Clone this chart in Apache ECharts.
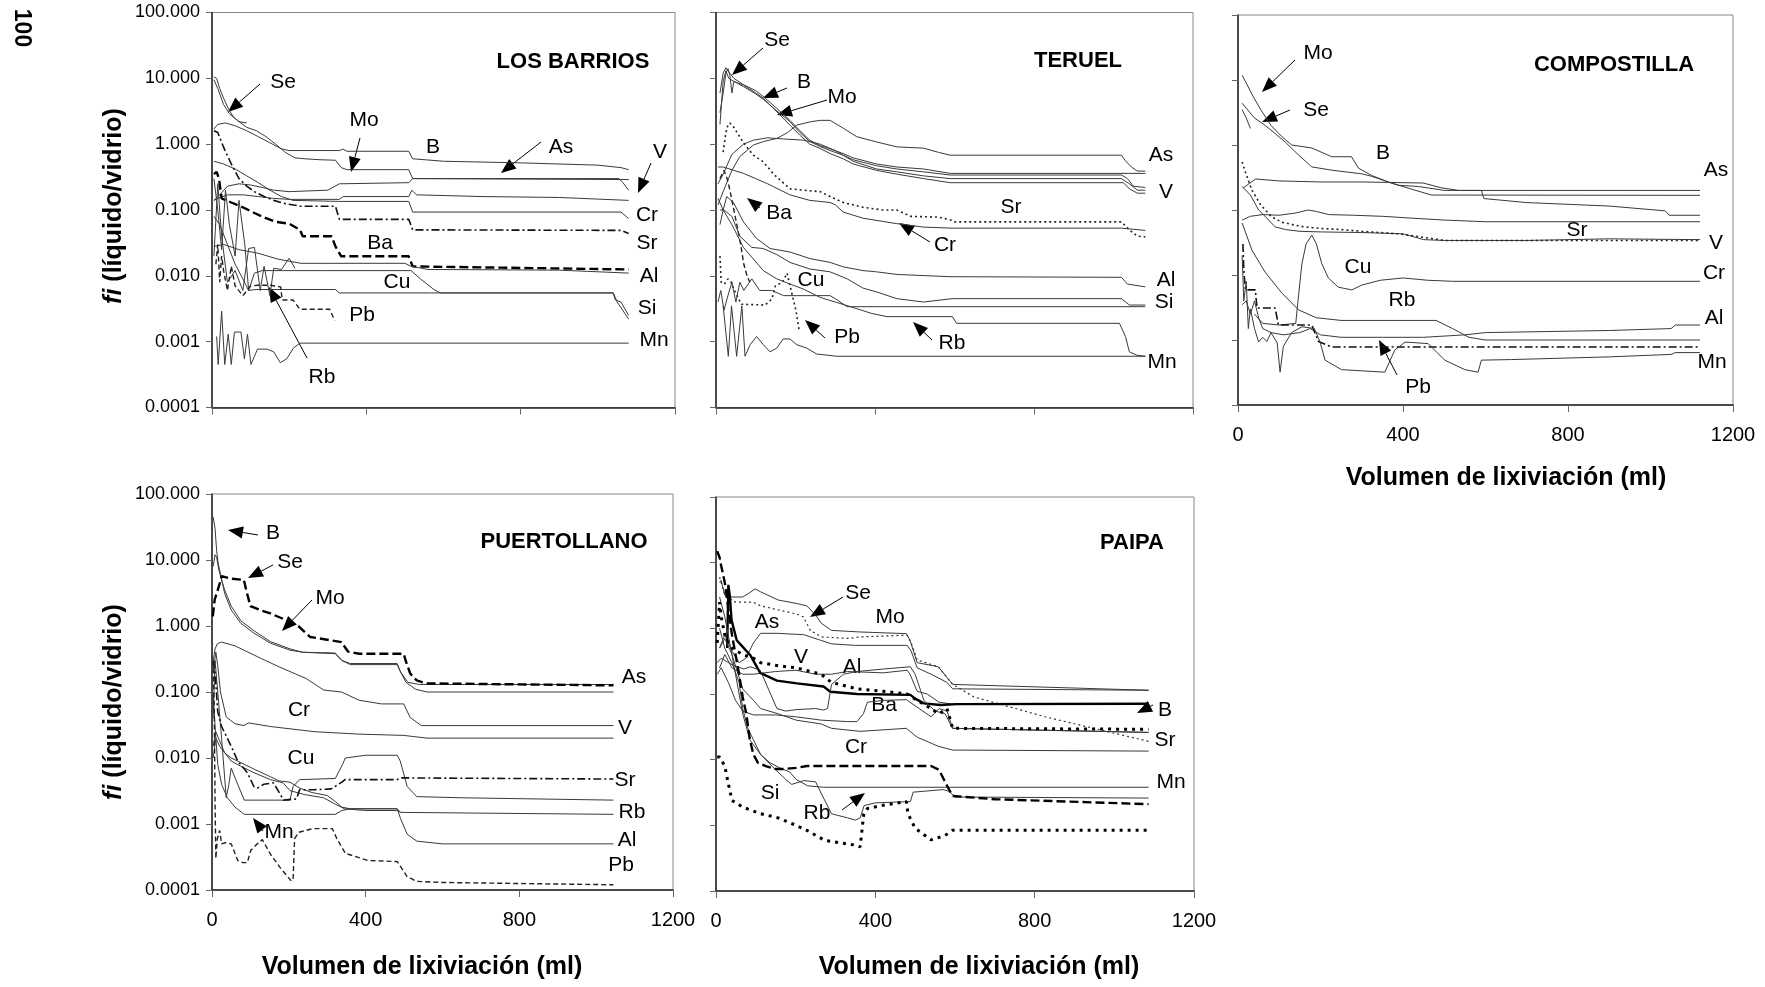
<!DOCTYPE html>
<html lang="es">
<head>
<meta charset="UTF-8">
<title>fi (líquido/vidrio) vs volumen de lixiviación</title>
<script src="https://cdn.jsdelivr.net/npm/echarts@6/dist/echarts.min.js"></script>
<style>
  html, body { margin: 0; background: #fff; }
  #chart { width: 1765px; height: 987px; }
</style>
</head>
<body>
<div id="chart"></div>
<script>
  // axis labels
  const yTickLabels = ['0.0001', '0.001', '0.010', '0.100', '1.000', '10.000', '100.000'];
  const xTicks = [0, 400, 800, 1200];
  const panelNames = ['LOS BARRIOS', 'TERUEL', 'COMPOSTILLA', 'PUERTOLLANO', 'PAIPA'];

  // ---- LOS BARRIOS  [ml, fi]
  const lbSe = [[5,10.5],[12,10],[20,7],[30,5],[42,3.5],[55,2.6],[70,2.2],[90,2.1]];
  const lbB = [[5,1.7],[15,2.0],[35,2.1],[60,1.9],[90,1.6],[120,1.3],[150,1.05],[180,0.85],[200,0.8],[330,0.8],[340,0.84],[350,0.78],[510,0.78],[520,0.6],[600,0.55],[800,0.52],[1000,0.48],[1060,0.44],[1080,0.41]];
  const lbMo = [[5,9.5],[15,7],[30,4],[45,2.9],[70,2.2],[90,1.8],[115,1.6],[140,1.3],[165,1.0],[190,0.75],[215,0.62],[240,0.6],[280,0.58],[320,0.57],[335,0.44],[350,0.41],[510,0.41],[520,0.3],[1080,0.29]];
  const lbAs = [[5,0.14],[20,0.17],[40,0.23],[70,0.25],[100,0.24],[130,0.22],[160,0.2],[200,0.19],[300,0.2],[330,0.25],[510,0.26],[520,0.3],[1055,0.3],[1065,0.26],[1080,0.2]];
  const lbV = [[5,0.14],[15,0.15],[40,0.17],[80,0.17],[120,0.16],[160,0.15],[200,0.145],[330,0.145],[340,0.16],[510,0.16],[518,0.2],[530,0.17],[700,0.16],[900,0.155],[1080,0.14]];
  const lbCr = [[5,0.55],[30,0.5],[60,0.42],[90,0.33],[120,0.26],[150,0.2],[180,0.16],[210,0.14],[330,0.135],[510,0.135],[520,0.093],[1060,0.093],[1080,0.074]];
  const lbSr = [[5,1.6],[15,1.5],[30,0.9],[50,0.5],[70,0.3],[90,0.23],[110,0.19],[135,0.16],[160,0.14],[190,0.125],[230,0.114],[320,0.114],[330,0.072],[510,0.072],[520,0.05],[1060,0.049],[1080,0.044]];
  const lbBa = [[5,0.35],[12,0.38],[18,0.3],[25,0.15],[50,0.13],[80,0.11],[110,0.09],[140,0.075],[165,0.066],[200,0.062],[228,0.05],[235,0.04],[310,0.04],[320,0.028],[335,0.0198],[510,0.0198],[520,0.0139],[1080,0.0125]];
  const lbAl = [[5,0.028],[30,0.03],[70,0.025],[120,0.022],[170,0.018],[230,0.0155],[500,0.0155],[515,0.014],[560,0.0125],[900,0.0122],[1080,0.011]];
  const lbCu = [[5,0.08],[20,0.06],[40,0.03],[60,0.015],[80,0.009],[95,0.006],[110,0.011],[130,0.012],[186,0.012],[300,0.012],[516,0.012],[540,0.009],[575,0.0062],[592,0.0055],[1040,0.0055],[1050,0.004],[1080,0.0022]];
  const lbSi = [[5,0.3],[15,0.1],[25,0.025],[35,0.2],[45,0.06],[60,0.02],[70,0.14],[85,0.03],[95,0.006],[115,0.0062],[320,0.0062],[330,0.0055],[1040,0.0055],[1045,0.0043],[1060,0.004],[1080,0.0025]];
  const lbRb = [[5,0.02],[15,0.25],[25,0.04],[40,0.008],[60,0.012],[80,0.006],[95,0.026],[110,0.027],[125,0.006],[135,0.014],[150,0.005],[160,0.013],[180,0.0125],[200,0.0185],[215,0.013]];
  const lbPb = [[10,0.015],[15,0.03],[20,0.008],[25,0.02],[30,0.012],[40,0.006],[50,0.014],[60,0.007],[80,0.005],[100,0.007],[118,0.0072],[150,0.0072],[178,0.0068],[182,0.0043],[210,0.0043],[228,0.0031],[305,0.0031],[318,0.0021]];
  const lbMn = [[12,0.0012],[16,0.00045],[25,0.0029],[33,0.00045],[42,0.0013],[50,0.00045],[58,0.0014],[75,0.0014],[84,0.00055],[92,0.0013],[101,0.00045],[118,0.00077],[143,0.00077],[160,0.0007],[177,0.00048],[194,0.00055],[211,0.0008],[228,0.00095],[1080,0.00095]];

  // ---- TERUEL
  const teSe = [[10,3],[18,6],[25,12],[30,14],[35,11],[40,6],[45,9],[55,8.5],[69,7.9],[100,6],[119,5],[153,3.1],[186,1.95],[211,1.37],[236,1.0],[262,0.86],[287,0.72],[320,0.6],[345,0.5],[404,0.4],[455,0.35],[522,0.3],[589,0.26],[1025,0.26],[1040,0.21],[1060,0.18],[1080,0.18]];
  const teB = [[10,6],[18,12],[25,14.5],[30,13],[45,10],[69,8],[100,6.5],[119,5.3],[153,3.5],[186,2.3],[211,1.6],[236,1.15],[262,0.95],[287,0.85],[320,0.72],[345,0.62],[404,0.5],[455,0.45],[522,0.42],[589,0.36],[1080,0.36]];
  const teMo = [[10,2],[18,9],[25,13],[32,10],[45,9],[69,7.5],[100,5.8],[119,4.8],[153,3.2],[186,2.2],[211,1.5],[236,1.1],[262,0.92],[287,0.8],[320,0.68],[345,0.58],[404,0.47],[455,0.42],[522,0.38],[589,0.34],[1020,0.34],[1035,0.3],[1050,0.23],[1080,0.22]];
  const teAs = [[5,0.12],[18,0.19],[40,0.4],[60,0.65],[94,0.97],[120,1.1],[153,1.22],[180,1.5],[203,1.95],[240,2.2],[262,2.3],[287,2.3],[320,1.75],[354,1.3],[404,1.08],[455,0.91],[522,0.87],[560,0.75],[589,0.68],[1020,0.68],[1030,0.56],[1045,0.45],[1060,0.39],[1080,0.39]];
  const teV = [[5,0.25],[18,0.35],[40,0.7],[69,1.0],[94,1.15],[130,1.25],[170,1.2],[220,1.15],[262,1.0],[300,0.8],[345,0.55],[404,0.42],[455,0.38],[522,0.33],[589,0.3],[1020,0.3],[1040,0.25],[1060,0.2],[1080,0.2]];
  const teSr = [[18,0.76],[25,1.5],[30,1.95],[35,2.1],[45,1.8],[69,1.05],[94,0.68],[119,0.54],[145,0.35],[186,0.21],[220,0.2],[262,0.19],[287,0.16],[320,0.13],[370,0.11],[420,0.1],[455,0.1],[490,0.08],[560,0.078],[592,0.07],[600,0.066],[1020,0.066],[1040,0.05],[1060,0.04],[1080,0.039]];
  const teCr = [[5,0.45],[18,0.45],[69,0.36],[100,0.3],[130,0.25],[186,0.17],[236,0.14],[287,0.13],[300,0.12],[320,0.093],[370,0.075],[455,0.062],[522,0.055],[594,0.053],[1020,0.053],[1080,0.049]];
  const teBa = [[10,0.3],[20,0.4],[28,0.3],[35,0.2],[45,0.1],[55,0.05],[62,0.03],[70,0.015],[78,0.01],[85,0.008]];
  const tePb = [[10,0.02],[13,0.008],[21,0.0075],[30,0.009],[38,0.008],[47,0.0059],[64,0.0037],[124,0.0036],[141,0.0045],[149,0.007],[167,0.008],[179,0.011],[184,0.008],[201,0.003],[209,0.0015]];
  const teAl = [[10,0.06],[18,0.1],[27,0.16],[44,0.13],[69,0.066],[102,0.037],[136,0.026],[186,0.023],[236,0.0183],[287,0.016],[320,0.0137],[370,0.012],[404,0.0115],[455,0.0105],[589,0.0097],[1020,0.0095],[1035,0.0075],[1080,0.0068]];
  const teSi = [[10,0.1],[20,0.1],[40,0.08],[60,0.04],[90,0.027],[119,0.026],[153,0.021],[186,0.016],[236,0.0127],[287,0.0115],[330,0.009],[370,0.0065],[404,0.0057],[455,0.0045],[522,0.004],[594,0.0045],[1020,0.0045],[1040,0.0036],[1080,0.0036]];
  const teCu = [[5,0.004],[12,0.006],[20,0.003],[30,0.005],[40,0.008],[50,0.004],[60,0.008],[70,0.006],[90,0.009],[110,0.006],[140,0.006],[170,0.005],[203,0.005],[287,0.005],[300,0.0045],[330,0.0034],[1080,0.0034]];
  const teRb = [[5,0.15],[18,0.1],[40,0.06],[69,0.027],[94,0.018],[119,0.012],[153,0.009],[186,0.0075],[220,0.0063],[262,0.0047],[300,0.004],[345,0.0033],[390,0.0027],[430,0.0024],[595,0.0024],[605,0.0019],[1015,0.0019],[1030,0.0012],[1040,0.0007],[1060,0.00062],[1080,0.0006]];
  const teMn = [[18,0.0035],[31,0.0006],[39,0.0035],[52,0.0006],[65,0.0035],[73,0.0006],[86,0.0009],[102,0.0012],[119,0.0009],[136,0.0007],[153,0.0008],[169,0.0011],[186,0.0011],[203,0.0009],[228,0.0008],[253,0.00065],[304,0.0006],[1080,0.0006]];

  // ---- COMPOSTILLA
  const coMo = [[10,11.9],[20,9],[34,6],[55,3.5],[80,2],[106,1.35],[130,1.0],[179,0.9],[227,0.66],[275,0.66],[292,0.44],[324,0.34],[364,0.27],[389,0.24],[437,0.23],[501,0.2],[590,0.2],[596,0.15],[700,0.13],[900,0.115],[1036,0.097],[1045,0.083],[1120,0.083]];
  const coSe = [[10,4.4],[40,2.6],[66,2.0],[90,1.5],[115,1.1],[147,0.7],[179,0.46],[227,0.41],[300,0.36],[324,0.33],[372,0.26],[420,0.21],[469,0.17],[1120,0.168]];
  const coSeStub = [[10,3.5],[20,2.6],[30,1.8]];
  const coAs = [[13,0.22],[43,0.3],[100,0.28],[200,0.27],[300,0.27],[449,0.26],[492,0.22],[535,0.2],[1120,0.2]];
  const coV = [[10,0.23],[30,0.17],[50,0.1],[70,0.075],[90,0.055],[115,0.05],[150,0.047],[200,0.046],[300,0.045],[400,0.043],[450,0.035],[500,0.034],[700,0.034],[900,0.036],[1120,0.035]];
  const coB = [[10,0.07],[30,0.08],[60,0.085],[100,0.083],[140,0.09],[170,0.1],[190,0.095],[220,0.085],[280,0.083],[350,0.08],[420,0.075],[500,0.07],[600,0.066],[1120,0.066]];
  const coSr = [[10,0.55],[20,0.35],[34,0.2],[55,0.12],[80,0.08],[106,0.065],[130,0.06],[160,0.055],[200,0.052],[250,0.05],[300,0.047],[389,0.043],[450,0.038],[501,0.034],[1120,0.034]];
  const coCr = [[40,0.0025],[60,0.0018],[100,0.0017],[140,0.0018],[147,0.005],[155,0.015],[165,0.03],[179,0.041],[190,0.03],[203,0.015],[219,0.009],[243,0.0065],[276,0.0059],[300,0.007],[345,0.0083],[400,0.009],[460,0.0083],[520,0.008],[1120,0.008]];
  const coRb = [[10,0.063],[34,0.024],[66,0.011],[106,0.0053],[147,0.0029],[190,0.0022],[250,0.002],[400,0.002],[480,0.002],[520,0.0015],[560,0.0011],[600,0.001],[1120,0.001]];
  const coAl = [[10,0.0035],[20,0.004],[30,0.0025],[40,0.004],[50,0.0022],[60,0.0015],[80,0.0013],[110,0.0012],[150,0.0013],[175,0.0015],[200,0.0012],[250,0.0011],[350,0.0011],[450,0.0011],[550,0.0012],[600,0.0013],[900,0.0014],[1050,0.0015],[1060,0.0017],[1120,0.0017]];
  const coPb = [[12,0.03],[14,0.012],[18,0.0059],[42,0.0059],[46,0.0031],[90,0.0031],[98,0.0017],[179,0.0017],[195,0.00095],[227,0.00078],[1120,0.00078]];
  const coMn = [[10,0.02],[14,0.004],[20,0.008],[25,0.0015],[30,0.003],[40,0.0015],[50,0.00093],[60,0.0011],[70,0.00095],[80,0.0013],[95,0.0009],[102,0.00032],[110,0.0008],[130,0.0013],[155,0.0016],[185,0.0015],[199,0.00093],[211,0.00049],[251,0.00035],[356,0.00032],[380,0.0007],[405,0.00093],[461,0.00088],[501,0.00049],[550,0.00035],[582,0.00032],[590,0.00049],[663,0.0005],[900,0.00055],[1050,0.0006],[1060,0.00064],[1120,0.00064]];

  // ---- PUERTOLLANO
  const puB = [[3,45],[8,30],[12,14],[16,9],[20,7],[33,3.1],[50,1.75],[75,1.1],[109,0.78],[152,0.55],[203,0.43],[236,0.4],[321,0.39],[338,0.3],[360,0.26],[482,0.26],[491,0.2],[505,0.14],[530,0.11],[560,0.1],[1045,0.1]];
  const puSe = [[3,8],[8,12],[12,11],[18,7],[25,5],[33,3.5],[50,2],[75,1.2],[109,0.85],[152,0.58],[203,0.45],[236,0.4],[321,0.38],[338,0.3],[360,0.27],[482,0.27],[491,0.2],[510,0.14],[540,0.13],[1045,0.13]];
  const puMo = [[2,1.4],[7,2.5],[12,3.1],[20,4.4],[25,5.7],[50,5.2],[83,5],[89,3.5],[100,2],[130,1.7],[152,1.55],[190,1.25],[222,1.03],[256,0.68],[300,0.62],[337,0.57],[354,0.41],[383,0.38],[499,0.38],[504,0.3],[516,0.19],[533,0.15],[556,0.135],[1045,0.126]];
  const puCr = [[3,0.3],[8,0.45],[14,0.54],[25,0.57],[60,0.5],[129,0.32],[175,0.24],[245,0.16],[291,0.107],[337,0.1],[383,0.075],[441,0.066],[499,0.066],[516,0.041],[545,0.031],[1045,0.031]];
  const puV = [[3,0.2],[10,0.4],[15,0.25],[22,0.1],[37,0.042],[60,0.033],[83,0.031],[95,0.034],[152,0.03],[268,0.025],[383,0.023],[499,0.022],[560,0.02],[1045,0.02]];
  const puCu = [[3,0.04],[8,0.3],[15,0.1],[25,0.02],[37,0.0025],[44,0.004],[50,0.007],[60,0.005],[84,0.0023],[203,0.0023],[211,0.0037],[228,0.0047],[321,0.0049],[340,0.008],[347,0.01],[400,0.011],[482,0.011],[490,0.009],[508,0.0037],[533,0.0026],[643,0.0025],[1045,0.0023]];
  const puAl = [[3,0.01],[10,0.02],[20,0.015],[33,0.012],[50,0.01],[75,0.0085],[109,0.0068],[152,0.0052],[175,0.0045],[203,0.0043],[228,0.0035],[260,0.003],[300,0.0027],[321,0.0022],[338,0.0018],[360,0.0017],[482,0.0017],[491,0.0012],[508,0.0007],[533,0.00055],[600,0.0005],[1045,0.0005]];
  const puRb = [[3,0.015],[10,0.025],[20,0.018],[33,0.012],[50,0.009],[75,0.0075],[109,0.006],[152,0.0047],[185,0.0042],[203,0.0032],[240,0.0028],[290,0.0025],[321,0.002],[345,0.0017],[400,0.0016],[482,0.0016],[491,0.0015],[1045,0.0014]];
  const puMn = [[3,0.1],[8,0.03],[15,0.008],[25,0.004],[40,0.0025],[60,0.0018],[84,0.0014],[200,0.0014],[321,0.0014],[338,0.0016],[360,0.0017],[482,0.0017],[491,0.0015]];
  const puSr = [[3,0.3],[8,0.2],[15,0.05],[25,0.03],[50,0.015],[67,0.009],[92,0.006],[109,0.0037],[118,0.0035],[135,0.004],[160,0.0042],[178,0.0028],[186,0.0023],[220,0.0024],[228,0.0033],[265,0.0033],[310,0.0034],[338,0.0043],[346,0.0047],[482,0.0047],[491,0.005],[1045,0.0048]];
  const puPb = [[3,0.3],[6,0.05],[8,0.002],[10,0.0003],[14,0.0006],[20,0.0008],[25,0.0005],[35,0.00052],[50,0.0005],[67,0.00028],[80,0.00026],[92,0.00026],[101,0.0004],[118,0.0005],[131,0.00058],[152,0.00035],[177,0.00022],[205,0.00014],[211,0.00014],[215,0.0006],[226,0.00075],[262,0.00085],[313,0.00085],[325,0.0006],[347,0.00036],[406,0.00028],[482,0.00027],[508,0.00016],[533,0.000135],[600,0.00013],[1045,0.00012]];

  // ---- PAIPA
  const paMo = [[9,5],[13,5.4],[22,3.2],[40,3.0],[67,3.0],[85,3.5],[98,4.0],[112,3.6],[156,2.7],[201,2.4],[228,2.2],[250,1.6],[264,1.2],[290,0.93],[362,0.88],[478,0.83],[487,0.66],[505,0.3],[558,0.26],[594,0.14],[1086,0.114]];
  const paSe = [[9,6],[22,3.2],[49,2.5],[94,2.5],[112,2.2],[201,1.66],[219,1.5],[237,0.93],[264,0.74],[335,0.7],[362,0.74],[460,0.78],[480,0.78],[490,0.6],[505,0.33],[558,0.26],[594,0.14],[648,0.09],[826,0.045],[1086,0.019]];
  const paAs = [[9,0.5],[22,0.8],[40,0.45],[58,0.3],[75,0.35],[94,0.6],[112,0.84],[153,0.84],[220,0.8],[262,0.66],[290,0.58],[350,0.55],[480,0.55],[490,0.45],[505,0.25],[540,0.2],[580,0.15],[594,0.12],[1086,0.114]];
  const paV = [[9,0.25],[22,0.4],[40,0.25],[67,0.2],[94,0.2],[150,0.22],[201,0.23],[250,0.2],[290,0.2],[330,0.22],[420,0.21],[480,0.23],[487,0.2],[505,0.11],[530,0.1],[560,0.075],[594,0.07],[1086,0.07]];
  const paB = [[28,0.5],[31,4.6],[35,3],[39,1.34],[52,0.66],[70,0.5],[86,0.39],[111,0.21],[153,0.16],[203,0.145],[270,0.13],[287,0.108],[354,0.1],[488,0.097],[500,0.085],[522,0.072],[564,0.068],[605,0.07],[1086,0.071]];
  const paAl = [[3,0.3],[13,0.35],[40,0.28],[70,0.24],[86,0.26],[111,0.23],[153,0.06],[175,0.055],[203,0.058],[250,0.06],[270,0.057],[280,0.06],[290,0.14],[320,0.2],[354,0.22],[420,0.24],[488,0.26],[500,0.2],[522,0.08],[550,0.055],[575,0.05],[594,0.03],[1086,0.026]];
  const paBa = [[3,0.2],[13,0.25],[31,0.15],[49,0.08],[67,0.055],[94,0.048],[150,0.048],[200,0.045],[264,0.04],[330,0.038],[354,0.038],[370,0.05],[380,0.075],[420,0.08],[478,0.082],[487,0.075],[510,0.06],[540,0.045],[560,0.06],[580,0.055],[594,0.03],[1086,0.026]];
  const paSr = [[3,0.6],[9,2.5],[13,1.5],[22,0.8],[31,0.6],[40,0.5],[67,0.4],[94,0.35],[112,0.3],[156,0.27],[201,0.25],[264,0.2],[290,0.15],[354,0.12],[420,0.11],[480,0.1],[505,0.08],[530,0.065],[560,0.05],[580,0.06],[594,0.03],[1086,0.029]];
  const paCr = [[9,0.5],[22,0.7],[40,0.4],[67,0.12],[94,0.08],[112,0.06],[156,0.05],[201,0.04],[264,0.035],[290,0.03],[362,0.027],[478,0.03],[487,0.027],[505,0.022],[558,0.016],[594,0.014],[1086,0.0135]];
  const paMn = [[9,3],[22,1.5],[40,0.4],[58,0.1],[67,0.05],[85,0.02],[100,0.015],[112,0.012],[135,0.009],[160,0.0075],[185,0.0065],[201,0.005],[230,0.004],[270,0.0038],[1086,0.0038]];
  const paCu = [[9,1],[22,0.5],[40,0.3],[58,0.15],[67,0.06],[80,0.03],[94,0.02],[112,0.012],[140,0.008],[175,0.005],[190,0.0042],[220,0.0048],[250,0.0046],[265,0.003],[290,0.0015],[330,0.0013],[350,0.0012],[362,0.0013],[372,0.002],[400,0.0022],[488,0.0023],[495,0.0032],[570,0.0035],[585,0.0033],[600,0.0027],[1086,0.0026]];
  const paSi = [[3,15],[9,12],[13,9],[22,5],[31,2],[40,0.8],[49,0.4],[58,0.2],[67,0.09],[76,0.05],[85,0.02],[94,0.012],[105,0.009],[125,0.008],[150,0.0072],[170,0.0072],[201,0.0075],[228,0.008],[300,0.008],[480,0.008],[540,0.008],[560,0.007],[580,0.004],[594,0.0028],[700,0.0025],[1086,0.0021]];
  const paRb = [[3,0.011],[9,0.011],[22,0.008],[31,0.0043],[40,0.0024],[67,0.0019],[112,0.0015],[156,0.0013],[201,0.001],[228,0.00084],[273,0.00059],[350,0.0005],[362,0.00047],[371,0.0015],[380,0.0018],[416,0.002],[478,0.0023],[482,0.0015],[500,0.0009],[540,0.0006],[575,0.0007],[594,0.00084],[1086,0.00084]];

  // ---- layout
  const grids = [
    { left: 212, top: 12.5, width: 463, height: 395 },
    { left: 716, top: 12.5, width: 477, height: 395 },
    { left: 1238, top: 15, width: 495, height: 390 },
    { left: 212, top: 494, width: 461, height: 396 },
    { left: 716, top: 497, width: 478, height: 394 }
  ];
  const FONT = '"Liberation Sans", Arial, sans-serif';

  const thin = {};
  const dashDot = { color: '#111', width: 1.6, type: [8, 3, 2, 3] };
  const heavyDash = { color: '#000', width: 2.4, type: [9, 4] };
  const dashed = { color: '#222', width: 1.4, type: [5, 3] };
  const dotted = { color: '#222', width: 1.6, type: [2, 3] };
  const heavyDot = { color: '#000', width: 3, type: [3, 5] };
  const heavy = { color: '#000', width: 2.4 };

  function ln(g, name, data, st) {
    return {
      type: 'line', name: name, xAxisIndex: g, yAxisIndex: g, data: data,
      symbol: 'none', silent: true, animation: false,
      lineStyle: Object.assign({ color: '#3a3a3a', width: 1 }, st)
    };
  }

  const series = [
    ln(0, 'Se', lbSe, thin), ln(0, 'B', lbB, thin), ln(0, 'Mo', lbMo, thin), ln(0, 'As', lbAs, thin),
    ln(0, 'V', lbV, thin), ln(0, 'Cr', lbCr, thin), ln(0, 'Sr', lbSr, dashDot), ln(0, 'Ba', lbBa, heavyDash),
    ln(0, 'Al', lbAl, thin), ln(0, 'Cu', lbCu, thin), ln(0, 'Si', lbSi, thin), ln(0, 'Rb', lbRb, thin),
    ln(0, 'Pb', lbPb, dashed), ln(0, 'Mn', lbMn, thin),

    ln(1, 'Se', teSe, thin), ln(1, 'B', teB, thin), ln(1, 'Mo', teMo, thin), ln(1, 'As', teAs, thin),
    ln(1, 'V', teV, thin), ln(1, 'Sr', teSr, dotted), ln(1, 'Cr', teCr, thin), ln(1, 'Ba', teBa, dashed),
    ln(1, 'Pb', tePb, dotted), ln(1, 'Al', teAl, thin), ln(1, 'Si', teSi, thin), ln(1, 'Cu', teCu, thin),
    ln(1, 'Rb', teRb, thin), ln(1, 'Mn', teMn, thin),

    ln(2, 'Mo', coMo, thin), ln(2, 'Se', coSe, thin), ln(2, 'Se', coSeStub, thin), ln(2, 'As', coAs, thin),
    ln(2, 'V', coV, thin), ln(2, 'B', coB, thin), ln(2, 'Sr', coSr, dotted), ln(2, 'Cr', coCr, thin),
    ln(2, 'Rb', coRb, thin), ln(2, 'Al', coAl, thin), ln(2, 'Pb', coPb, dashDot), ln(2, 'Mn', coMn, thin),

    ln(3, 'B', puB, thin), ln(3, 'Se', puSe, thin), ln(3, 'Mo', puMo, heavyDash), ln(3, 'Cr', puCr, thin),
    ln(3, 'V', puV, thin), ln(3, 'Cu', puCu, thin), ln(3, 'Al', puAl, thin), ln(3, 'Rb', puRb, thin),
    ln(3, 'Mn', puMn, thin), ln(3, 'Sr', puSr, dashDot), ln(3, 'Pb', puPb, dashed),

    ln(4, 'Mo', paMo, thin), ln(4, 'Se', paSe, { color: '#333', width: 1.2, type: [2, 3] }), ln(4, 'As', paAs, thin),
    ln(4, 'V', paV, thin), ln(4, 'B', paB, heavy), ln(4, 'Al', paAl, thin), ln(4, 'Ba', paBa, thin),
    ln(4, 'Sr', paSr, heavyDot), ln(4, 'Cr', paCr, thin), ln(4, 'Mn', paMn, thin), ln(4, 'Cu', paCu, thin),
    ln(4, 'Si', paSi, heavyDash), ln(4, 'Rb', paRb, heavyDot)
  ];

  // ---- annotations (pixel positions)
  const notes = [
    ['Se',283,82],['Mo',364,120],['B',433,147],['As',561,147],['V',660,152],['Cr',647,215],['Sr',647,243],
    ['Ba',380,243],['Al',649,276],['Cu',397,282],['Si',647,308],['Pb',362,315],['Mn',654,340],['Rb',322,377],
    ['Se',777,40],['B',804,82],['Mo',842,97],['Ba',779,213],['Cr',945,245],['Sr',1011,207],['As',1161,155],
    ['V',1166,192],['Al',1166,280],['Si',1164,302],['Mn',1162,362],['Cu',811,280],['Pb',847,337],['Rb',952,343],
    ['Mo',1318,53],['Se',1316,110],['B',1383,153],['As',1716,170],['Sr',1577,230],['V',1716,243],['Cu',1358,267],
    ['Cr',1714,273],['Rb',1402,300],['Al',1714,318],['Mn',1712,362],['Pb',1418,387],
    ['B',273,533],['Se',290,562],['Mo',330,598],['As',634,677],['Cr',299,710],['V',625,728],['Cu',301,758],
    ['Sr',625,780],['Rb',632,812],['Mn',279,832],['Al',627,840],['Pb',621,865],
    ['Se',858,593],['Mo',890,617],['As',767,622],['V',801,657],['Al',852,667],['Ba',884,705],['B',1165,710],
    ['Cr',856,747],['Sr',1165,740],['Mn',1171,782],['Si',770,793],['Rb',817,813]
  ];
  const arrows = [
    [260,84,228,112],[360,138,351,172],[541,142,501,173],[651,163,638,193],[307,358,269,287],
    [763,48,732,75],[787,88,763,98],[827,100,777,115],[760,208,747,198],[930,242,899,223],[825,338,805,320],[932,340,913,322],
    [1295,60,1262,92],[1290,110,1262,122],[1397,375,1379,340],
    [258,535,228,530],[273,565,248,578],[312,600,282,631],[263,831,253,818],
    [843,597,810,617],[1153,705,1137,713],[842,810,865,793]
  ];
  const titlePos = [[573,62],[1078,61],[1614,65],[564,542],[1132,543]];
  const xTitlePos = [[1506,478],[422,967],[979,967]];
  const yTitlePos = [[114,206],[114,702]];

  function txt(t, x, y, font, rot) {
    return {
      type: 'text', x: x, y: y, rotation: rot || 0, silent: true,
      style: { text: t, font: font, fill: '#000', textAlign: 'center', textVerticalAlign: 'middle', align: 'center', verticalAlign: 'middle' }
    };
  }
  function arrowEls(a) {
    const [x1, y1, x2, y2] = a;
    const ang = Math.atan2(y2 - y1, x2 - x1), L = 15, W = 6;
    const bx = x2 - L * Math.cos(ang), by = y2 - L * Math.sin(ang);
    const px = -Math.sin(ang) * W, py = Math.cos(ang) * W;
    return [
      { type: 'line', silent: true, shape: { x1: x1, y1: y1, x2: bx, y2: by }, style: { stroke: '#000', lineWidth: 1 } },
      { type: 'polygon', silent: true, shape: { points: [[x2, y2], [bx + px, by + py], [bx - px, by - py]] }, style: { fill: '#000' } }
    ];
  }

  const graphic = [];
  notes.forEach(n => graphic.push(txt(n[0], n[1], n[2], '21px ' + FONT)));
  arrows.forEach(a => graphic.push(...arrowEls(a)));
  panelNames.forEach((n, i) => graphic.push(txt(n, titlePos[i][0], titlePos[i][1], 'bold 22px ' + FONT)));
  xTitlePos.forEach(p => graphic.push(txt('Volumen de lixiviación (ml)', p[0], p[1], 'bold 25px ' + FONT)));
  yTitlePos.forEach(p => graphic.push({
    type: 'text', x: p[0], y: p[1], rotation: Math.PI / 2, silent: true,
    style: {
      text: '{i|fi} (líquido/vidrio)', font: 'bold 25px ' + FONT, fill: '#000',
      textAlign: 'center', textVerticalAlign: 'middle', align: 'center', verticalAlign: 'middle',
      rich: { i: { fontStyle: 'italic', fontWeight: 'bold', fontSize: 25, fontFamily: FONT, fill: '#000' } }
    }
  }));
  graphic.push(txt('100', 21, 28, 'bold 23px ' + FONT, -Math.PI / 2));

  const chart = echarts.init(document.getElementById('chart'));
  chart.setOption({
    animation: false,
    backgroundColor: '#fff',
    grid: grids.map(g => Object.assign({ show: true, borderColor: '#888', borderWidth: 1 }, g)),
    xAxis: grids.map((g, i) => ({
      gridIndex: i, type: 'value', min: xTicks[0], max: xTicks[xTicks.length - 1], interval: 400,
      axisLine: { show: true, lineStyle: { color: '#222', width: 1.5 } },
      axisTick: { show: true, length: 7, lineStyle: { color: '#666' } },
      axisLabel: { show: i >= 2, fontSize: 20, color: '#000', margin: 20, fontFamily: FONT, formatter: v => String(v) },
      splitLine: { show: false }
    })),
    yAxis: grids.map((g, i) => ({
      gridIndex: i, type: 'log', logBase: 10, min: 0.0001, max: 100,
      axisLine: { show: true, lineStyle: { color: '#222', width: 1.5 } },
      axisTick: { show: true, length: 6, lineStyle: { color: '#666' } },
      minorTick: { show: false },
      axisLabel: {
        show: i === 0 || i === 3, fontSize: 18, color: '#000', margin: 12, fontFamily: FONT,
        formatter: v => yTickLabels[Math.round(Math.log10(v)) + 4]
      },
      splitLine: { show: false }
    })),
    series: series,
    graphic: graphic
  });
</script>
</body>
</html>
